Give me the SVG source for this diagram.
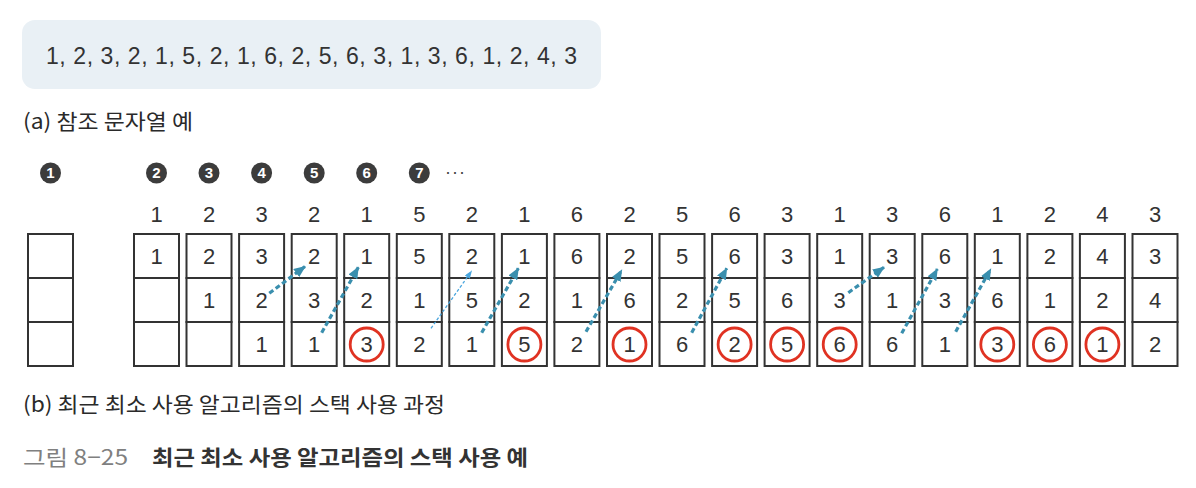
<svg xmlns="http://www.w3.org/2000/svg" width="1196" height="488" viewBox="0 0 1196 488">
<defs>
<style>
.bg{fill:#ffffff}
.seqbox{fill:#e9f0f5}
.seq{font-family:"Liberation Sans","Noto Sans CJK KR",sans-serif;font-size:23px;fill:#333}
.cap{font-family:"Noto Sans CJK KR","Liberation Sans",sans-serif;font-size:21px;fill:#2a2a2a}
.fig{font-family:"Noto Sans CJK KR","Liberation Sans",sans-serif;font-size:21px;fill:#808080}
.figt{font-family:"Noto Sans CJK KR","Liberation Sans",sans-serif;font-size:21px;font-weight:bold;fill:#333}
.cell{fill:#fff;stroke:#333;stroke-width:2}
.num{font-family:"Liberation Sans",sans-serif;font-size:22px;fill:#333;text-anchor:middle}
.badge{fill:#3c3c3c}
.btxt{font-family:"Liberation Sans",sans-serif;font-size:15px;font-weight:bold;fill:#fff;text-anchor:middle}
.ring{fill:none;stroke:#e03222;stroke-width:2.8}
.arr{fill:none;stroke:#3a8fae;stroke-width:3.2;stroke-dasharray:5 3}
.arrthin{fill:none;stroke:#4aa6de;stroke-width:1.3;stroke-dasharray:3 2}
</style>
<marker id="ah" viewBox="0 0 12 10" refX="11" refY="5" markerWidth="12" markerHeight="10" markerUnits="userSpaceOnUse" orient="auto">
<path d="M0,0 L12,5 L0,10 z" fill="#3a8fae"/>
</marker>
<marker id="ahs" viewBox="0 0 8 6" refX="7.5" refY="3" markerWidth="8" markerHeight="6" markerUnits="userSpaceOnUse" orient="auto">
<path d="M0,0 L8,3 L0,6 z" fill="#4aa6de"/>
</marker>
</defs>
<rect class="bg" x="0" y="0" width="1196" height="488"/>

<g id="sequence">
<rect class="seqbox" x="22" y="20" width="579" height="69" rx="13"/>
<text class="seq" x="46" y="64" textLength="531" lengthAdjust="spacing">1, 2, 3, 2, 1, 5, 2, 1, 6, 2, 5, 6, 3, 1, 3, 6, 1, 2, 4, 3</text>
</g>
<text id="caption-a" class="cap" x="23" y="129" textLength="170" lengthAdjust="spacingAndGlyphs">(a) 참조 문자열 예</text>

<g id="badges">
<circle class="badge" cx="50.5" cy="173" r="10.5"/><text class="btxt" x="50.5" y="178.3">1</text>
<circle class="badge" cx="156.5" cy="173" r="10.5"/><text class="btxt" x="156.5" y="178.3">2</text>
<circle class="badge" cx="209" cy="173" r="10.5"/><text class="btxt" x="209" y="178.3">3</text>
<circle class="badge" cx="261.6" cy="173" r="10.5"/><text class="btxt" x="261.6" y="178.3">4</text>
<circle class="badge" cx="314.2" cy="173" r="10.5"/><text class="btxt" x="314.2" y="178.3">5</text>
<circle class="badge" cx="366.7" cy="173" r="10.5"/><text class="btxt" x="366.7" y="178.3">6</text>
<circle class="badge" cx="419.3" cy="173" r="10.5"/><text class="btxt" x="419.3" y="178.3">7</text>
<text x="445" y="178" style="font-family:'Liberation Sans',sans-serif;font-size:18px;fill:#444;letter-spacing:1px">···</text>
</g>

<g id="stack-empty">
<rect class="cell" x="28" y="234" width="45" height="44"/>
<rect class="cell" x="28" y="278" width="45" height="44"/>
<rect class="cell" x="28" y="322" width="45" height="44"/>
</g>

<g id="labels">
<text class="num" x="156.5" y="221.5">1</text>
<text class="num" x="209" y="221.5">2</text>
<text class="num" x="261.6" y="221.5">3</text>
<text class="num" x="314.2" y="221.5">2</text>
<text class="num" x="366.7" y="221.5">1</text>
<text class="num" x="419.3" y="221.5">5</text>
<text class="num" x="471.8" y="221.5">2</text>
<text class="num" x="524.4" y="221.5">1</text>
<text class="num" x="576.9" y="221.5">6</text>
<text class="num" x="629.5" y="221.5">2</text>
<text class="num" x="682" y="221.5">5</text>
<text class="num" x="734.6" y="221.5">6</text>
<text class="num" x="787.1" y="221.5">3</text>
<text class="num" x="839.7" y="221.5">1</text>
<text class="num" x="892.2" y="221.5">3</text>
<text class="num" x="944.8" y="221.5">6</text>
<text class="num" x="997.3" y="221.5">1</text>
<text class="num" x="1049.9" y="221.5">2</text>
<text class="num" x="1102.4" y="221.5">4</text>
<text class="num" x="1155" y="221.5">3</text>
</g>

<g id="stack-1">
<rect class="cell" x="134" y="234" width="45" height="44"/><rect class="cell" x="134" y="278" width="45" height="44"/><rect class="cell" x="134" y="322" width="45" height="44"/>
<text class="num" x="156.5" y="264">1</text>
</g>
<g id="stack-2">
<rect class="cell" x="186.5" y="234" width="45" height="44"/><rect class="cell" x="186.5" y="278" width="45" height="44"/><rect class="cell" x="186.5" y="322" width="45" height="44"/>
<text class="num" x="209" y="264">2</text><text class="num" x="209" y="308">1</text>
</g>
<g id="stack-3">
<rect class="cell" x="239.1" y="234" width="45" height="44"/><rect class="cell" x="239.1" y="278" width="45" height="44"/><rect class="cell" x="239.1" y="322" width="45" height="44"/>
<text class="num" x="261.6" y="264">3</text><text class="num" x="261.6" y="308">2</text><text class="num" x="261.6" y="352">1</text>
</g>
<g id="stack-4">
<rect class="cell" x="291.7" y="234" width="45" height="44"/><rect class="cell" x="291.7" y="278" width="45" height="44"/><rect class="cell" x="291.7" y="322" width="45" height="44"/>
<text class="num" x="314.2" y="264">2</text><text class="num" x="314.2" y="308">3</text><text class="num" x="314.2" y="352">1</text>
</g>
<g id="stack-5">
<rect class="cell" x="344.2" y="234" width="45" height="44"/><rect class="cell" x="344.2" y="278" width="45" height="44"/><rect class="cell" x="344.2" y="322" width="45" height="44"/>
<text class="num" x="366.7" y="264">1</text><text class="num" x="366.7" y="308">2</text><text class="num" x="366.7" y="352">3</text>
<circle class="ring" cx="366.7" cy="344.5" r="16.5"/>
</g>
<g id="stack-6">
<rect class="cell" x="396.8" y="234" width="45" height="44"/><rect class="cell" x="396.8" y="278" width="45" height="44"/><rect class="cell" x="396.8" y="322" width="45" height="44"/>
<text class="num" x="419.3" y="264">5</text><text class="num" x="419.3" y="308">1</text><text class="num" x="419.3" y="352">2</text>
</g>
<g id="stack-7">
<rect class="cell" x="449.3" y="234" width="45" height="44"/><rect class="cell" x="449.3" y="278" width="45" height="44"/><rect class="cell" x="449.3" y="322" width="45" height="44"/>
<text class="num" x="471.8" y="264">2</text><text class="num" x="471.8" y="308">5</text><text class="num" x="471.8" y="352">1</text>
</g>
<g id="stack-8">
<rect class="cell" x="501.9" y="234" width="45" height="44"/><rect class="cell" x="501.9" y="278" width="45" height="44"/><rect class="cell" x="501.9" y="322" width="45" height="44"/>
<text class="num" x="524.4" y="264">1</text><text class="num" x="524.4" y="308">2</text><text class="num" x="524.4" y="352">5</text>
<circle class="ring" cx="524.4" cy="344.5" r="16.5"/>
</g>
<g id="stack-9">
<rect class="cell" x="554.4" y="234" width="45" height="44"/><rect class="cell" x="554.4" y="278" width="45" height="44"/><rect class="cell" x="554.4" y="322" width="45" height="44"/>
<text class="num" x="576.9" y="264">6</text><text class="num" x="576.9" y="308">1</text><text class="num" x="576.9" y="352">2</text>
</g>
<g id="stack-10">
<rect class="cell" x="607" y="234" width="45" height="44"/><rect class="cell" x="607" y="278" width="45" height="44"/><rect class="cell" x="607" y="322" width="45" height="44"/>
<text class="num" x="629.5" y="264">2</text><text class="num" x="629.5" y="308">6</text><text class="num" x="629.5" y="352">1</text>
<circle class="ring" cx="629.5" cy="344.5" r="16.5"/>
</g>
<g id="stack-11">
<rect class="cell" x="659.5" y="234" width="45" height="44"/><rect class="cell" x="659.5" y="278" width="45" height="44"/><rect class="cell" x="659.5" y="322" width="45" height="44"/>
<text class="num" x="682" y="264">5</text><text class="num" x="682" y="308">2</text><text class="num" x="682" y="352">6</text>
</g>
<g id="stack-12">
<rect class="cell" x="712.1" y="234" width="45" height="44"/><rect class="cell" x="712.1" y="278" width="45" height="44"/><rect class="cell" x="712.1" y="322" width="45" height="44"/>
<text class="num" x="734.6" y="264">6</text><text class="num" x="734.6" y="308">5</text><text class="num" x="734.6" y="352">2</text>
<circle class="ring" cx="734.6" cy="344.5" r="16.5"/>
</g>
<g id="stack-13">
<rect class="cell" x="764.6" y="234" width="45" height="44"/><rect class="cell" x="764.6" y="278" width="45" height="44"/><rect class="cell" x="764.6" y="322" width="45" height="44"/>
<text class="num" x="787.1" y="264">3</text><text class="num" x="787.1" y="308">6</text><text class="num" x="787.1" y="352">5</text>
<circle class="ring" cx="787.1" cy="344.5" r="16.5"/>
</g>
<g id="stack-14">
<rect class="cell" x="817.2" y="234" width="45" height="44"/><rect class="cell" x="817.2" y="278" width="45" height="44"/><rect class="cell" x="817.2" y="322" width="45" height="44"/>
<text class="num" x="839.7" y="264">1</text><text class="num" x="839.7" y="308">3</text><text class="num" x="839.7" y="352">6</text>
<circle class="ring" cx="839.7" cy="344.5" r="16.5"/>
</g>
<g id="stack-15">
<rect class="cell" x="869.7" y="234" width="45" height="44"/><rect class="cell" x="869.7" y="278" width="45" height="44"/><rect class="cell" x="869.7" y="322" width="45" height="44"/>
<text class="num" x="892.2" y="264">3</text><text class="num" x="892.2" y="308">1</text><text class="num" x="892.2" y="352">6</text>
</g>
<g id="stack-16">
<rect class="cell" x="922.3" y="234" width="45" height="44"/><rect class="cell" x="922.3" y="278" width="45" height="44"/><rect class="cell" x="922.3" y="322" width="45" height="44"/>
<text class="num" x="944.8" y="264">6</text><text class="num" x="944.8" y="308">3</text><text class="num" x="944.8" y="352">1</text>
</g>
<g id="stack-17">
<rect class="cell" x="974.8" y="234" width="45" height="44"/><rect class="cell" x="974.8" y="278" width="45" height="44"/><rect class="cell" x="974.8" y="322" width="45" height="44"/>
<text class="num" x="997.3" y="264">1</text><text class="num" x="997.3" y="308">6</text><text class="num" x="997.3" y="352">3</text>
<circle class="ring" cx="997.3" cy="344.5" r="16.5"/>
</g>
<g id="stack-18">
<rect class="cell" x="1027.4" y="234" width="45" height="44"/><rect class="cell" x="1027.4" y="278" width="45" height="44"/><rect class="cell" x="1027.4" y="322" width="45" height="44"/>
<text class="num" x="1049.9" y="264">2</text><text class="num" x="1049.9" y="308">1</text><text class="num" x="1049.9" y="352">6</text>
<circle class="ring" cx="1049.9" cy="344.5" r="16.5"/>
</g>
<g id="stack-19">
<rect class="cell" x="1079.9" y="234" width="45" height="44"/><rect class="cell" x="1079.9" y="278" width="45" height="44"/><rect class="cell" x="1079.9" y="322" width="45" height="44"/>
<text class="num" x="1102.4" y="264">4</text><text class="num" x="1102.4" y="308">2</text><text class="num" x="1102.4" y="352">1</text>
<circle class="ring" cx="1102.4" cy="344.5" r="16.5"/>
</g>
<g id="stack-20">
<rect class="cell" x="1132.5" y="234" width="45" height="44"/><rect class="cell" x="1132.5" y="278" width="45" height="44"/><rect class="cell" x="1132.5" y="322" width="45" height="44"/>
<text class="num" x="1155" y="264">3</text><text class="num" x="1155" y="308">4</text><text class="num" x="1155" y="352">2</text>
</g>

<g id="connectors">
<path class="arr" d="M269.3,293.3 L305,266.5" marker-end="url(#ah)"/>
<path class="arr" d="M321.7,332.7 L358.3,267.3" marker-end="url(#ah)"/>
<path class="arrthin" d="M431,328.3 L471.7,271" marker-end="url(#ahs)"/>
<path class="arr" d="M481.7,332.7 L518.3,268.3" marker-end="url(#ah)"/>
<path class="arr" d="M586,331.7 L621.7,270" marker-end="url(#ah)"/>
<path class="arr" d="M691.7,332.7 L726.7,268.3" marker-end="url(#ah)"/>
<path class="arr" d="M848.3,292.7 L884,267.3" marker-end="url(#ah)"/>
<path class="arr" d="M901.7,333.3 L937.3,269" marker-end="url(#ah)"/>
<path class="arr" d="M955.7,331.7 L990.7,269" marker-end="url(#ah)"/>
</g>

<text id="caption-b" class="cap" x="23" y="412" textLength="422" lengthAdjust="spacingAndGlyphs">(b) 최근 최소 사용 알고리즘의 스택 사용 과정</text>
<g id="figure-caption">
<text class="fig" x="23" y="465" textLength="105" lengthAdjust="spacingAndGlyphs">그림 8−25</text>
<text class="figt" x="152" y="465" textLength="376" lengthAdjust="spacingAndGlyphs">최근 최소 사용 알고리즘의 스택 사용 예</text>
</g>
</svg>
